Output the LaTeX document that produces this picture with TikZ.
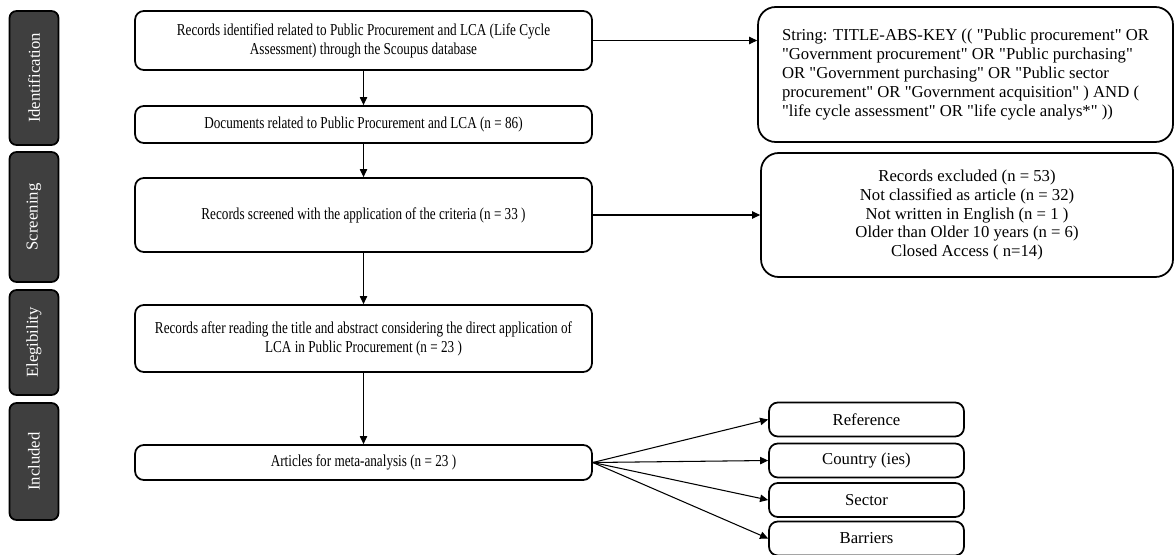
\documentclass[tikz,border=0pt]{standalone}
\usepackage{fontspec}
\setmainfont{Liberation Serif}[Ligatures=TeXOff]
\newfontfamily\narrowfont{Liberation Serif}[FakeStretch=0.79,Ligatures=TeXOff]
\usepackage{tikz}
\usetikzlibrary{arrows.meta}

\definecolor{phase}{HTML}{3F3F3F}

\begin{document}
\begin{tikzpicture}[x=0.02cm,y=-0.02cm,>={Triangle[length=4.6pt,width=4.2pt]},
    font=\fontsize{9.5}{10.8}\selectfont, line width=0.6pt]
\useasboundingbox (0,0) rectangle (1175,554);

% phases on the left
\begin{scope}[every node/.style={draw,line width=1pt,fill=phase,text=white,rotate=90,
    rounded corners=4pt,minimum height=0.98cm,inner sep=0pt}]
    \node[minimum width=2.68cm] (p1) at (34,78) {Identification};
    \node[minimum width=2.60cm] (p2) at (34,217) {Screening};
    \node[minimum width=2.10cm] (p3) at (34,342.5) {Elegibility};
    \node[minimum width=2.34cm] (p4) at (34,461.5) {Included};
\end{scope}

% main flow
\begin{scope}[every node/.style={draw,line width=1pt,rounded corners=5pt,
    minimum width=9.14cm,align=center,inner sep=2pt,font=\fontsize{9.5}{10.8}\narrowfont}]
    \node[minimum height=1.18cm] (1) at (363.5,40.5) {Records identified related to Public Procurement and LCA (Life Cycle\\Assessment) through the Scoupus database};
    \node[minimum height=0.74cm] (2) at (363.5,124.5) {Documents related to Public Procurement and LCA (n = 86)};
    \node[minimum height=1.48cm] (3) at (363.5,215) {Records screened with the application of the criteria (n = 33 )};
    \node[minimum height=1.34cm] (4) at (363.5,338.5) {Records after reading the title and abstract considering the direct application of\\LCA in Public Procurement (n = 23 )};
    \node[minimum height=0.70cm] (5) at (363.5,462.5) {Articles for meta-analysis (n = 23 )};
\end{scope}

% boxes on the right
\begin{scope}[every node/.style={draw,line width=1pt,rounded corners=10pt,inner sep=2pt}]
    \node[minimum width=8.3cm,minimum height=2.7cm,align=left] (str) at (965.5,74.5) {String: TITLE-ABS-KEY (( "Public procurement" OR\\"Government procurement" OR "Public purchasing"\\OR "Government purchasing" OR "Public sector\\procurement" OR "Government acquisition" ) AND (\\"life cycle assessment" OR "life cycle analys*" ))};
    \node[minimum width=8.24cm,minimum height=2.48cm,align=center] (exc) at (967,215) {Records excluded (n = 53)\\Not classified as article (n = 32)\\Not written in English (n = 1 )\\Older than Older 10 years (n = 6)\\Closed Access ( n=14)};
\end{scope}

\begin{scope}[every node/.style={draw,line width=1pt,rounded corners=5pt,
    minimum width=3.9cm,minimum height=0.68cm,inner sep=2pt}]
    \node (ref) at (866.5,419.5) {Reference};
    \node (cou) at (866.5,460.5) {Country (ies)};
    \node (sec) at (866.5,500) {Sector};
    \node (bar) at (866.5,538.5) {Barriers};
\end{scope}

\draw[->] (1) -- (2);
\draw[->] (2) -- (3);
\draw[->] (3) -- (4);
\draw[->] (4) -- (5);
\draw[->] (1.east) -- (1.east -| str.west);
\draw[->] (3.east) -- (exc.west);
\draw[->] (5.east) -- (ref.west);
\draw[->] (5.east) -- (cou.west);
\draw[->] (5.east) -- (sec.west);
\draw[->] (5.east) -- (bar.west);
\end{tikzpicture}
\end{document}
